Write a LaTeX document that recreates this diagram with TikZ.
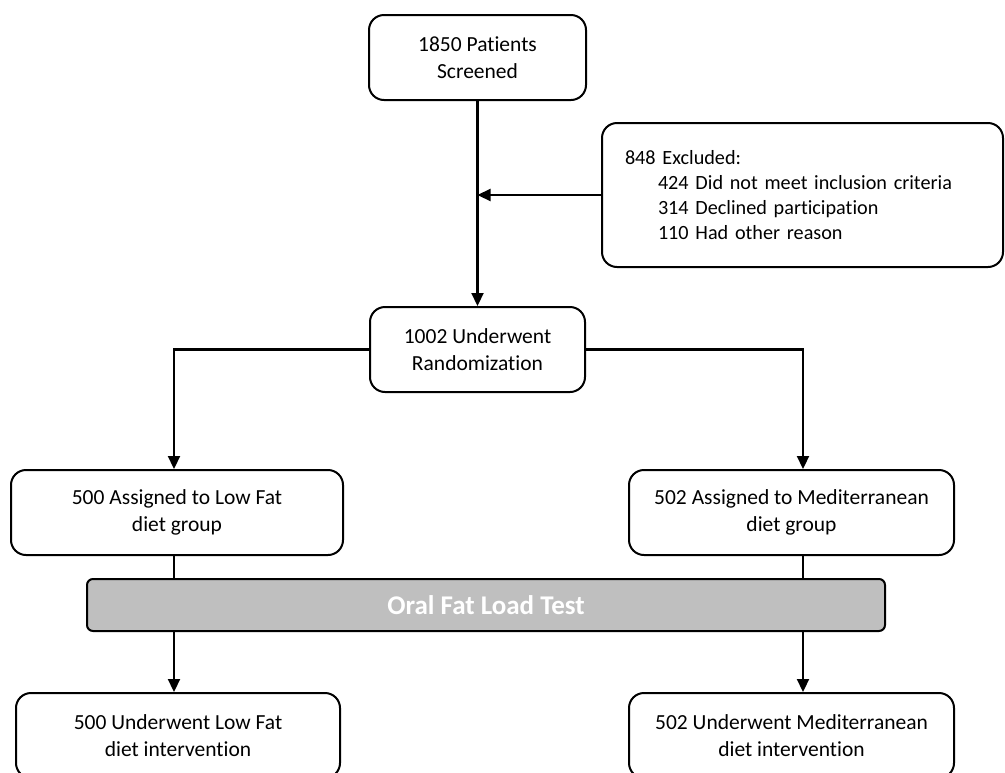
\documentclass[tikz,border=0pt]{standalone}
\usepackage{fontspec}
\setmainfont{Carlito}[Ligatures=NoCommon]
\usetikzlibrary{arrows.meta,calc}
\definecolor{barfill}{RGB}{191,191,191}
\tikzset{
  flowbox/.style={rectangle, rounded corners=15pt, draw=black, line width=2pt,
                  fill=white, align=center, inner sep=0pt,
                  font=\fontsize{21.5}{27.5}\selectfont},
  excbox/.style ={flowbox, align=left, text width=355pt,
                  font=\fontsize{20.2}{25}\selectfont},
  testbar/.style={rectangle, rounded corners=6pt, draw=black, line width=2pt,
                  fill=barfill, minimum width=798pt, minimum height=52pt,
                  font=\bfseries\fontsize{27}{30}\selectfont, text=white},
  flowline/.style={line width=2.2pt, black},
  flowarr/.style ={flowline, -{Triangle[length=13pt, width=12pt]}},
}
\begin{document}
\begin{tikzpicture}[x=1pt, y=-1pt]
  \useasboundingbox (0,0) rectangle (1005,772);
  \clip (0,0) rectangle (1005,772);

  % --- top of the chart ----------------------------------------------------
  \node[flowbox, minimum width=217pt, minimum height=85pt] (screened) at (477.5,57.5)
    {1850 Patients\\Screened};
  \node[flowbox, excbox, minimum width=401pt, minimum height=144pt] (excluded) at (802.5,195)
    {848 Excluded:\\
     \hspace*{33pt}424 Did not meet inclusion criteria\\
     \hspace*{33pt}314 Declined participation\\
     \hspace*{33pt}110 Had other reason};
  \node[flowbox, minimum width=215pt, minimum height=85pt] (rand) at (477.5,349.5)
    {1002 Underwent\\Randomization};

  % --- the two arms ----------------------------------------------------------
  \coordinate (colL) at (174,0);
  \coordinate (colR) at (803,0);
  \node[flowbox, minimum width=332pt, minimum height=85pt] (lowfat) at (177,512.5)
    {500 Assigned to Low Fat\\diet group};
  \node[flowbox, minimum width=325pt, minimum height=85pt] (medit) at (791.5,512.5)
    {502 Assigned to Mediterranean\\diet group};
  \node[testbar] (oflt) at (486,605) {Oral Fat Load Test};
  \node[flowbox, minimum width=324pt, minimum height=85pt] (lowint) at (178,735.5)
    {500 Underwent Low Fat\\diet intervention};
  \node[flowbox, minimum width=325pt, minimum height=85pt] (medint) at (791.5,735.5)
    {502 Underwent Mediterranean\\diet intervention};

  % --- connectors ------------------------------------------------------------
  \draw[flowarr] (screened.south) -- (rand.north);
  \draw[flowarr] (excluded.west) -- (excluded.west -| screened.south);
  \draw[flowarr] (rand.west) -| (colL |- lowfat.north);
  \draw[flowarr] (rand.east) -| (colR |- medit.north);
  \draw[flowline] (colL |- lowfat.south) -- (colL |- oflt.north);
  \draw[flowline] (colR |- medit.south) -- (colR |- oflt.north);
  \draw[flowarr] (colL |- oflt.south) -- (colL |- lowint.north);
  \draw[flowarr] (colR |- oflt.south) -- (colR |- medint.north);
\end{tikzpicture}
\end{document}
